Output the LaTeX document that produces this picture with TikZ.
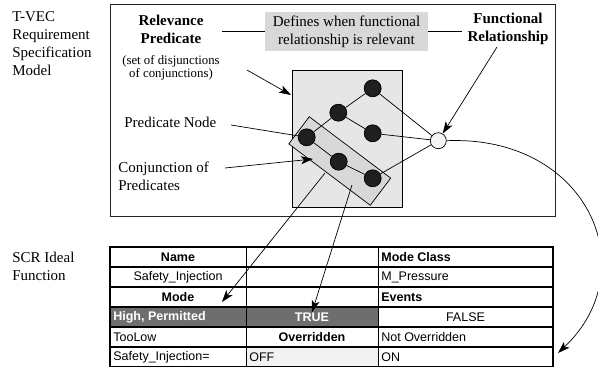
\documentclass[tikz,border=0pt]{standalone}
\usepackage{fontspec}
\setmainfont{Liberation Serif}
\newfontfamily\tabfamily{Liberation Sans}
\usetikzlibrary{calc,arrows.meta}

\definecolor{boxgray}{RGB}{230,230,230}
\definecolor{conjgray}{RGB}{216,216,216}
\definecolor{notegray}{RGB}{216,216,216}
\definecolor{celldark}{RGB}{110,110,110}
\definecolor{celllight}{RGB}{242,242,242}

\tikzset{
	lbl/.style={inner sep=0pt, align=center, font=\fontsize{15}{18}\selectfont},
	lblbold/.style={lbl, font=\fontsize{15}{18}\selectfont\bfseries},
	lblsmall/.style={inner sep=0pt, align=center, font=\fontsize{12.8}{10.5}\selectfont},
	pred/.style={circle, draw=black, fill=black!88, minimum size=17pt, inner sep=0pt},
	func/.style={circle, draw=black, fill=black!4, minimum size=16pt, inner sep=0pt},
	arr/.style={-{Stealth[length=12pt,width=8pt,inset=3pt]}, line width=0.7pt},
	celltxt/.style={inner sep=0pt, font=\tabfamily\fontsize{12.5}{14}\selectfont},
	cellbold/.style={celltxt, font=\tabfamily\fontsize{12.5}{14}\selectfont\bfseries},
	frame/.style={draw=black!85, line width=1pt},
}

\begin{document}
\begin{tikzpicture}[x=1pt, y=-1pt, line width=0.7pt]

	\useasboundingbox (0,0) rectangle (598,367);

	% ---- left titles

	\node[lbl, anchor=west, align=left] (tvec) at (12,44) {T-VEC\\Requirement\\Specification\\Model};
	\node[lbl, anchor=west, align=left] (scr) at (12,266.5) {SCR Ideal\\Function};

	% ---- T-VEC model

	\draw[frame] (110,4) rectangle (555,216);

	\node[lblbold] (relp) at (171,29) {Relevance\\Predicate};
	\node[lblsmall] (relsub) at (171,68) {(set of disjunctions\\of conjunctions)};
	\node[lbl, fill=notegray, minimum width=163pt, minimum height=39pt] (defs) at (346.5,31.5) {Defines when functional\\relationship is relevant};
	\node[lblbold] (funcrel) at (508,29) {Functional\\Relationship};
	\node[lbl, anchor=west] (pnlbl) at (124,122) {Predicate Node};
	\node[lbl, anchor=west, align=left] (cjlbl) at (118,176) {Conjunction of\\Predicates};

	\coordinate (relend) at (222,31.5);
	\coordinate (funcend) at (462,31.5);
	\draw (relend) -- (defs.west);
	\draw (defs.east) -- (funcend);

	\node[draw, fill=boxgray, minimum width=110pt, minimum height=137pt, inner sep=0pt] (rel) at (347,138.5) {};
	\node[draw, fill=conjgray, minimum width=102pt, minimum height=34pt, inner sep=0pt, rotate=-37] (conj) at (339.75,161) {};

	\foreach \n/\x/\y in {n1/372.7/88.3, n2/338.3/112.7, n3/372.7/133.3, n4/306.7/137.3, n5/338.7/161.7, n6/372.7/178.3} {
		\node[pred] (\n) at (\x,\y) {};
	}
	\node[func] (fr) at (438.3,140.7) {};

	\foreach \a/\b in {n4/n2, n2/n1, n2/n3, n4/n5, n5/n6, n1/fr, n3/fr, n6/fr} {
		\draw (\a) -- (\b);
	}

	% ---- SCR table

	\def\xa{110}
	\def\xb{246}
	\def\xc{378}
	\def\xd{553}

	\fill[celldark] (\xa,307) rectangle (\xc,327);
	\fill[celllight] (\xb,347) rectangle (\xc,367);
	\foreach \y in {267,287,307,327,347} { \draw[line width=1.3pt] (\xa,\y) -- (\xd,\y); }
	\foreach \x in {\xb,\xc} { \draw[line width=0.8pt] (\x,247) -- (\x,367); }
	\draw[line width=1.4pt] (\xa,367) -- (\xa,247) -- (\xd,247) -- (\xd,367) -- cycle;

	\node[cellbold] (name) at (178,257) {Name};
	\node[cellbold, anchor=west] (mclass) at (381,257) {Mode Class};
	\node[celltxt] (sinj) at (178,277) {Safety\_Injection};
	\node[celltxt, anchor=west] (mpress) at (381,277) {M\_Pressure};
	\node[cellbold] (mode) at (178,297) {Mode};
	\node[cellbold, anchor=west] (events) at (381,297) {Events};
	\node[cellbold, text=white, anchor=west] (highp) at (113,317) {High, Permitted};
	\node[cellbold, text=white] (truetxt) at (312,317) {TRUE};
	\node[celltxt] (falsetxt) at (465.5,317) {FALSE};
	\node[celltxt, anchor=west] (toolow) at (113,337) {TooLow};
	\node[cellbold] (overr) at (312,337) {Overridden};
	\node[celltxt, anchor=west] (notover) at (381,337) {Not Overridden};
	\node[celltxt, anchor=west] (sinjeq) at (113,357) {Safety\_Injection=};
	\node[celltxt, anchor=west] (off) at (249,357) {OFF};
	\node[celltxt, anchor=west] (on) at (381,357) {ON};

	% ---- pointers

	\coordinate (rsA) at (247,70);
	\coordinate (rsB) at (291,95);
	\coordinate (pnA) at (231,125);
	\coordinate (cjA) at (225,168);
	\coordinate (cjB) at (313,159);
	\coordinate (frA) at (497,47);
	\coordinate (cA) at (325,173);
	\coordinate (cB) at (352,185);
	\coordinate (modetip) at (222,302);
	\coordinate (ontip) at (558,353);

	\draw[arr] (rsA) -- (rsB);
	\draw (pnA) -- (n4);
	\draw[arr] (cjA) -- (cjB);
	\draw[arr] (frA) -- (fr);
	\draw[arr] (cA) -- (modetip);
	\draw[arr] (cB) -- (truetxt.north);
	\draw[arr] (fr.east) .. controls (588,135) and (646,270) .. (ontip);

\end{tikzpicture}
\end{document}
